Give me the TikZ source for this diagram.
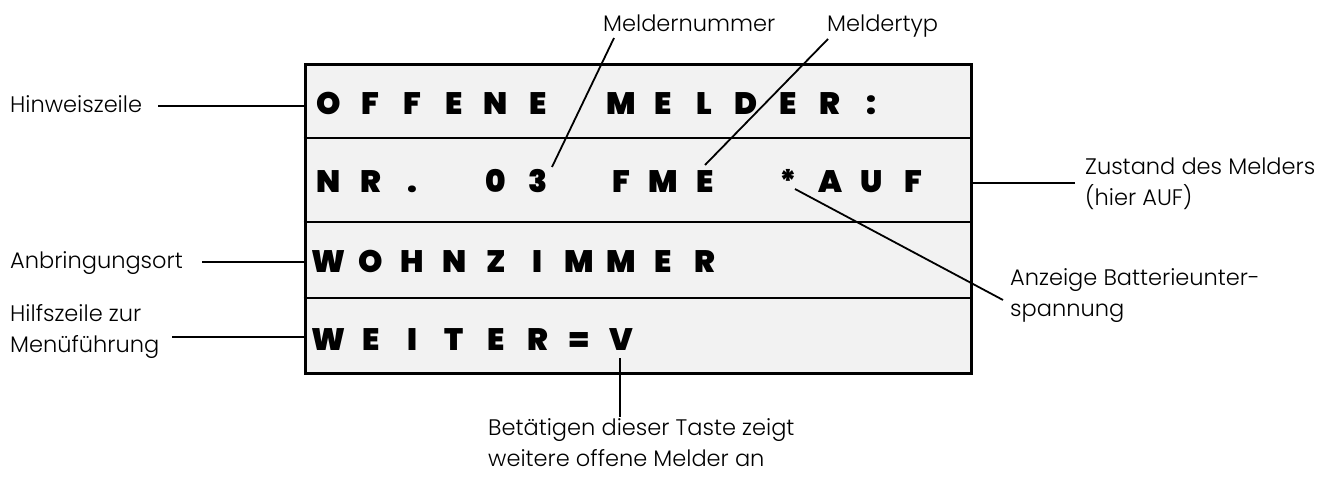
\documentclass[tikz,border=0pt]{standalone}
\usepackage{fontspec}
\setmainfont{Poppins Light}
\newfontfamily\disp{Poppins Black}
\begin{document}
\begin{tikzpicture}[x=1pt,y=-1pt,
  lbl/.style={font=\fontsize{22.5}{31}\selectfont, inner sep=0pt, align=left},
  dch/.style={font=\disp\fontsize{31}{31}\selectfont, inner sep=0pt, anchor=base},
  lead/.style={line width=1.8pt},
  rowline/.style={line width=2pt}]
\useasboundingbox (0,0) rectangle (1331,484);
% display
\node[draw, line width=3pt, fill=black!5, minimum width=666pt, minimum height=308pt, inner sep=0pt] (box) at (638,219) {};
\foreach \yy in {138,222,298} \draw[rowline] (box.west |- 0,\yy) -- (box.east |- 0,\yy);
\foreach \c [count=\i from 0] in {O,F,F,E,N,E,{},M,E,L,D,E,R,:}
  \node[dch] (ra\i) at (329+41.75*\i,115) {\c};
\foreach \c [count=\i from 0] in {N,R,.,{},0,3,{},F,M,E,{},*,A,U,F}
  \node[dch] (rb\i) at (329+41.75*\i,193) {\c};
\foreach \c [count=\i from 0] in {W,O,H,N,Z,I,M,M,E,R}
  \node[dch] (rc\i) at (329+41.75*\i,272) {\c};
\foreach \c [count=\i from 0] in {W,E,I,T,E,R,=,V}
  \node[dch] (rd\i) at (329+41.75*\i,350) {\c};
% labels
\node[lbl, anchor=base west] (hinw) at (10,113) {Hinweiszeile};
\node[lbl, anchor=base west] (anb) at (10,268) {Anbringungsort};
\node[lbl, anchor=north west] (hilf) at (10,304) {Hilfszeile zur\\Menüführung};
\node[lbl, anchor=base west] (mnr) at (603,32) {Meldernummer};
\node[lbl, anchor=base west] (mtyp) at (827,32) {Meldertyp};
\node[lbl, anchor=north west] (zust) at (1085,158) {Zustand des Melders\\(hier AUF)};
\node[lbl, anchor=north west] (anz) at (1010,268) {Anzeige Batterieunter-\\spannung};
\node[lbl, anchor=north west] (bet) at (488,418) {Betätigen dieser Taste zeigt\\weitere offene Melder an};
% connector ends
\coordinate (hinwE) at (158,106);
\coordinate (anbE) at (202,262);
\coordinate (hilfE) at (172,337);
\coordinate (mnrE) at (614,38);
\coordinate (mnrT) at (552,167);
\coordinate (mtypE) at (828,39);
\coordinate (mtypT) at (705,165);
\coordinate (zustE) at (1075,183);
\coordinate (anzS) at (795,189);
\coordinate (anzE) at (1003,300);
\coordinate (betS) at (620,358);
\coordinate (betE) at (620,417);
\draw[lead] (hinwE) -- (hinwE -| box.west);
\draw[lead] (anbE) -- (anbE -| box.west);
\draw[lead] (hilfE) -- (hilfE -| box.west);
\draw[lead] (mnrE) -- (mnrT);
\draw[lead] (mtypE) -- (mtypT);
\draw[lead] (zustE) -- (zustE -| box.east);
\draw[lead] (anzS) -- (anzE);
\draw[lead] (betS) -- (betE);
\end{tikzpicture}
\end{document}
